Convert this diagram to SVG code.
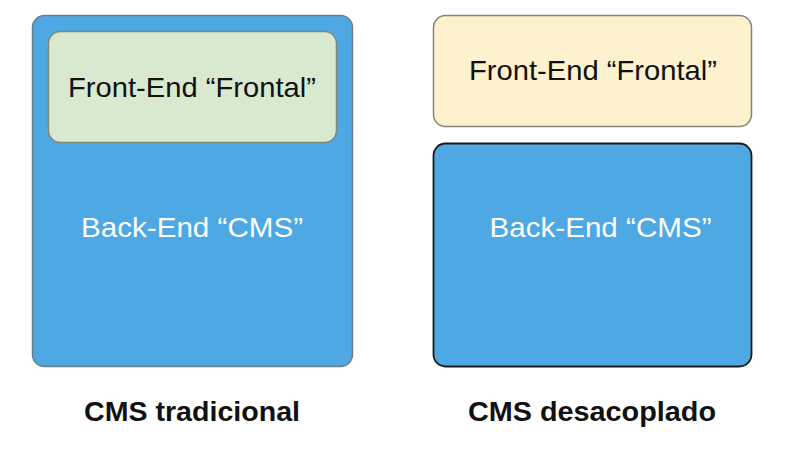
<svg xmlns="http://www.w3.org/2000/svg" width="788" height="449" viewBox="0 0 788 449">
<style>
.t{font-family:"Liberation Sans",Arial,sans-serif;font-size:28px;text-anchor:middle}
.dark{fill:#111111}
.white{fill:#ffffff}
.lbl{font-family:"Liberation Sans",Arial,sans-serif;font-size:28px;font-weight:bold;text-anchor:middle;fill:#111111}
.blue{fill:#4da8e3}
</style>
<rect width="788" height="449" fill="#ffffff"/>
<g id="traditional-backend">
<rect class="blue" x="32.5" y="15.5" width="320" height="351" rx="12" stroke="#6b7c8c" stroke-width="1.5"/>
<text class="t white" x="192" y="237" textLength="222" lengthAdjust="spacingAndGlyphs">Back-End “CMS”</text>
</g>
<g id="traditional-frontend">
<rect x="48.5" y="31.5" width="288" height="111" rx="12" fill="#d9e9d0" stroke="#7d8b7d" stroke-width="1.5"/>
<text class="t dark" x="192" y="97" textLength="248" lengthAdjust="spacingAndGlyphs">Front-End “Frontal”</text>
</g>
<g id="decoupled-frontend">
<rect x="433.5" y="15.5" width="318" height="111" rx="12" fill="#fdf2cd" stroke="#85857d" stroke-width="1.5"/>
<text class="t dark" x="593" y="80" textLength="248" lengthAdjust="spacingAndGlyphs">Front-End “Frontal”</text>
</g>
<g id="decoupled-backend">
<rect class="blue" x="433.5" y="143.5" width="318" height="223" rx="12" stroke="#1a1a1a" stroke-width="1.8"/>
<text class="t white" x="600.5" y="237" textLength="222" lengthAdjust="spacingAndGlyphs">Back-End “CMS”</text>
</g>
<g id="labels">
<text class="lbl" x="192" y="421" textLength="216" lengthAdjust="spacingAndGlyphs">CMS tradicional</text>
<text class="lbl" x="592" y="421" textLength="248" lengthAdjust="spacingAndGlyphs">CMS desacoplado</text>
</g>
<g id="connectors"></g>
</svg>
